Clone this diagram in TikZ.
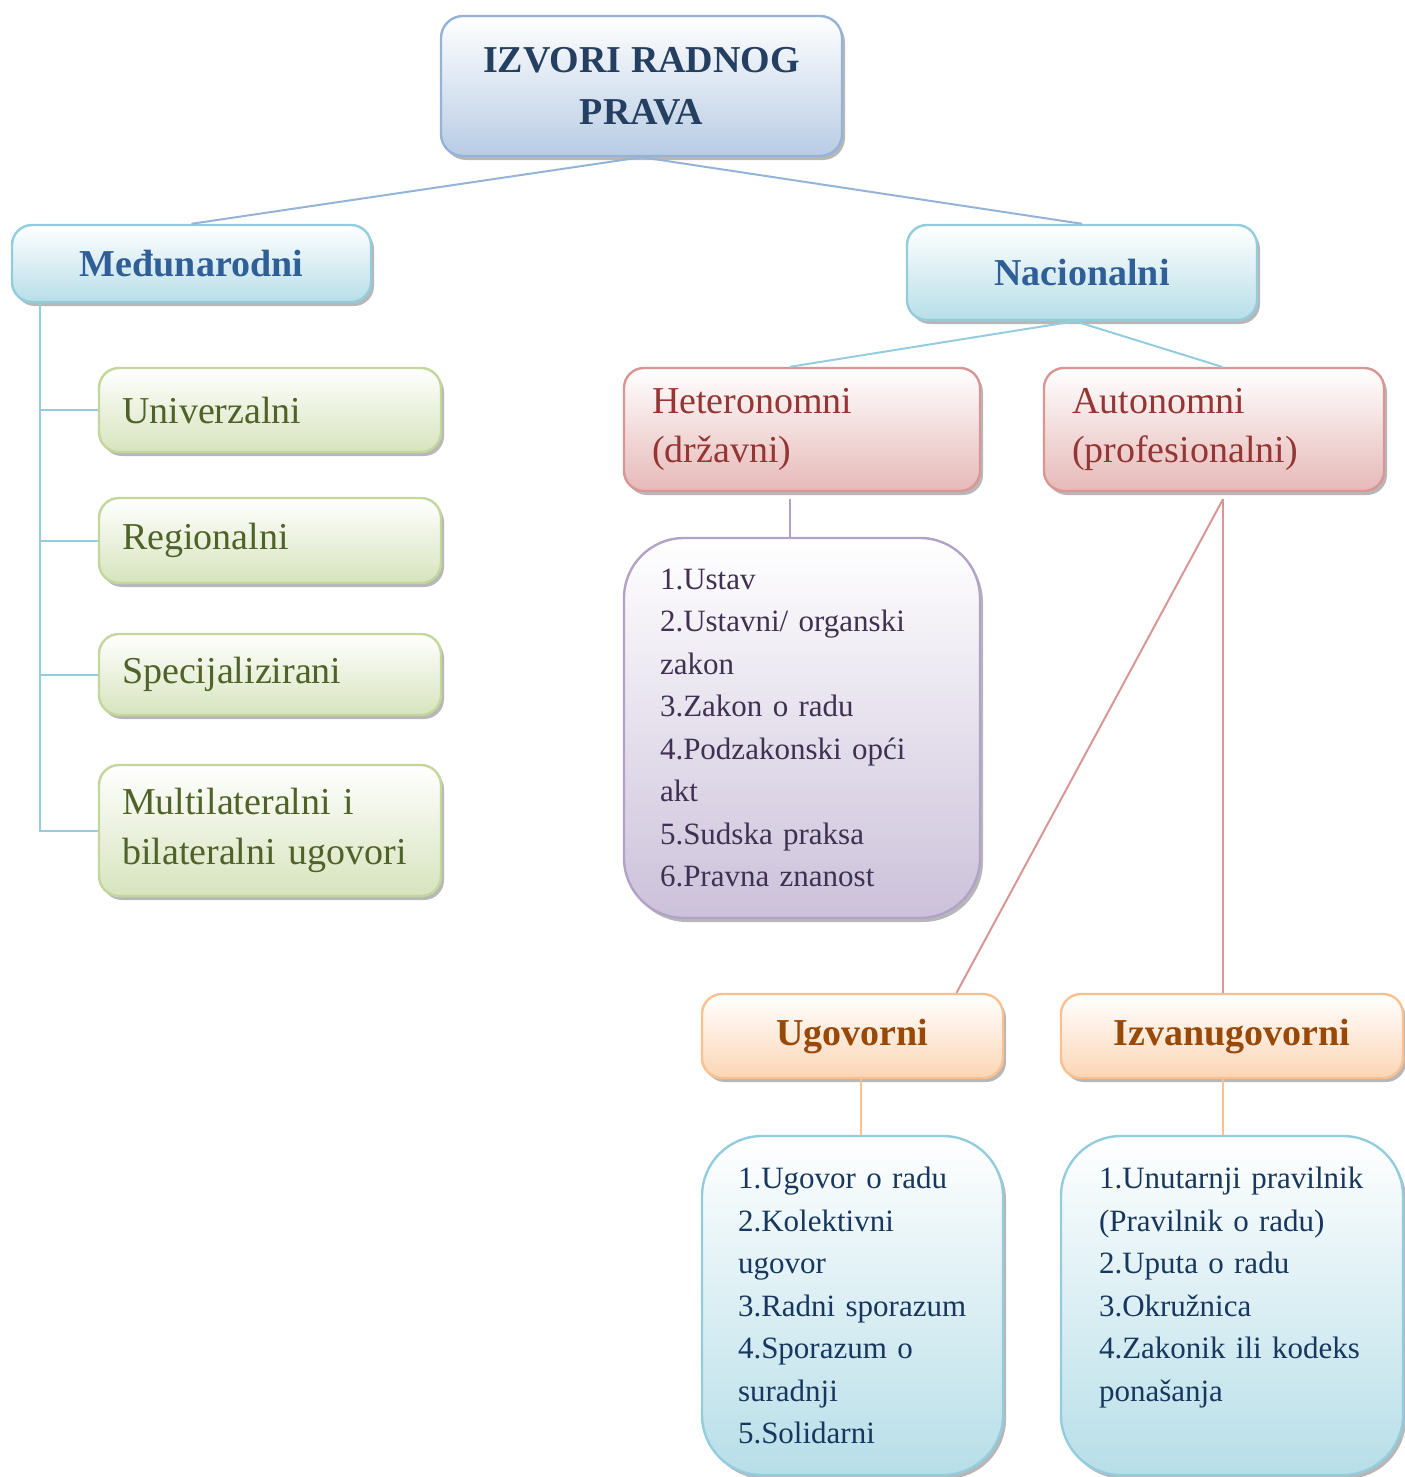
\documentclass[tikz,border=0pt]{standalone}
\usepackage{fontspec}
\setmainfont{Liberation Serif}
\usetikzlibrary{shadows}
\usetikzlibrary{calc}

\definecolor{topline}{HTML}{95B3D7}
\definecolor{topfill}{HTML}{B8CCE4}
\definecolor{toptext}{HTML}{243F60}
\definecolor{blueline}{HTML}{93CDDD}
\definecolor{bluefill}{HTML}{B7DEE8}
\definecolor{bluetext}{HTML}{2F5F96}
\definecolor{listtext}{HTML}{17375E}
\definecolor{greenline}{HTML}{C3D69B}
\definecolor{greenfill}{HTML}{D7E4BD}
\definecolor{greentext}{HTML}{4F6228}
\definecolor{redline}{HTML}{D99694}
\definecolor{redfill}{HTML}{E6B9B8}
\definecolor{redtext}{HTML}{943634}
\definecolor{purpleline}{HTML}{B3A2C7}
\definecolor{purplefill}{HTML}{CCC1DA}
\definecolor{purpletext}{HTML}{3F3151}
\definecolor{orangeline}{HTML}{FAC090}
\definecolor{orangefill}{HTML}{FBD5B5}
\definecolor{orangetext}{HTML}{984807}

\newcommand\headfont{\bfseries\fontsize{19}{26}\selectfont}
\newcommand\boxfont{\fontsize{19}{24.5}\selectfont}
\newcommand\itemfont{\fontsize{15.5}{21.25}\selectfont}

\tikzset{
  box/.style={rounded corners=10pt, line width=1.2pt, top color=white,
    drop shadow={shadow xshift=1.5pt, shadow yshift=-2pt, opacity=0.4, fill=black!70},
    inner ysep=0pt},
  topbox/.style={box, draw=topline, bottom color=topfill, text=toptext,
    font=\headfont, align=center, rounded corners=11pt},
  bluebox/.style={box, draw=blueline, bottom color=bluefill, text=bluetext,
    font=\headfont, align=center},
  greenbox/.style={box, draw=greenline, bottom color=greenfill, text=greentext,
    font=\boxfont, align=left, inner xsep=11.5pt, text width=148pt,
    minimum width=171pt},
  redbox/.style={box, draw=redline, bottom color=redfill, text=redtext,
    font=\boxfont, align=left, inner xsep=14pt},
  orangebox/.style={box, draw=orangeline, bottom color=orangefill, text=orangetext,
    font=\headfont, align=center},
  listbox/.style={box, rounded corners=30pt, font=\itemfont, align=left,
    inner xsep=18pt},
  conn/.style={line width=1pt}
}

\begin{document}
\begin{tikzpicture}[x=0.5pt,y=-0.5pt]
\useasboundingbox (0,0) rectangle (1404,1477);

\node[topbox, minimum width=200.5pt, minimum height=70pt] (top) at (641.5,86)
  {IZVORI RADNOG\\PRAVA};

\node[bluebox, minimum width=179.5pt, minimum height=38.5pt] (med) at (191.5,263.5) {Međunarodni};
\node[bluebox, minimum width=175pt, minimum height=47.5pt] (nac) at (1082,272.5) {Nacionalni};

\node[greenbox, minimum height=42pt] (univ) at (270,410) {Univerzalni};
\node[greenbox, minimum height=42.5pt] (reg) at (270,540.5) {Regionalni};
\node[greenbox, minimum height=40.5pt] (spec) at (270,674.5) {Specijalizirani};
\node[greenbox, minimum height=65.5pt, font=\fontsize{19}{25}\selectfont] (multi) at (270,830.5)
  {Multilateralni i\\bilateralni ugovori};

\node[redbox, text width=150pt, minimum height=61.5pt] (het) at (802,429.5)
  {Heteronomni\\(državni)};
\node[redbox, text width=142pt, minimum height=61.5pt] (aut) at (1214,429.5)
  {Autonomni\\(profesionalni)};

\node[listbox, draw=purpleline, bottom color=purplefill, text=purpletext,
  text width=142pt, minimum height=190pt] (hetlist) at (802,728)
  {1.Ustav\\2.Ustavni/ organski\\zakon\\3.Zakon o radu\\4.Podzakonski opći\\akt\\5.Sudska praksa\\6.Pravna znanost};

\node[orangebox, minimum width=150.5pt, minimum height=42pt] (ugov) at (852.5,1036) {Ugovorni};
\node[orangebox, minimum width=171pt, minimum height=42pt] (izvan) at (1232,1036) {Izvanugovorni};

\node[listbox, draw=blueline, bottom color=bluefill, text=listtext,
  text width=114.5pt, minimum height=169.5pt] (ugovlist) at (852.5,1305.5)
  {1.Ugovor o radu\\2.Kolektivni\\ugovor\\3.Radni sporazum\\4.Sporazum o\\suradnji\\5.Solidarni};
\node[listbox, draw=blueline, bottom color=bluefill, text=listtext,
  inner xsep=19pt, text width=133pt, minimum height=169.5pt] (izvanlist) at (1232,1305.5)
  {1.Unutarnji pravilnik\\(Pravilnik o radu)\\2.Uputa o radu\\3.Okružnica\\4.Zakonik ili kodeks\\ponašanja\\\mbox{}};

% connectors
\draw[conn, topline] (top.south) -- (med.north);
\draw[conn, topline] (top.south) -- (nac.north);

\coordinate (medfoot) at ([xshift=14.5pt]med.south west);
\draw[conn, blueline] (medfoot) -- (medfoot |- multi.west) -- (multi.west);
\draw[conn, blueline] (medfoot |- univ.west) -- (univ.west);
\draw[conn, blueline] (medfoot |- reg.west) -- (reg.west);
\draw[conn, blueline] (medfoot |- spec.west) -- (spec.west);

\coordinate (nacfoot) at ([xshift=-3.5pt]nac.south);
\draw[conn, blueline] (nacfoot) -- ([xshift=-6pt]het.north);
\draw[conn, blueline] (nacfoot) -- ([xshift=4pt]aut.north);

\draw[conn, purpleline] ([xshift=-6pt,yshift=-3.5pt]het.south) -- ([xshift=-6pt]hetlist.north);

\coordinate (autfoot) at ([xshift=4.5pt,yshift=-3.5pt]aut.south);
\draw[conn, redline] (autfoot) -- ([xshift=52pt]ugov.north);
\draw[conn, redline] (autfoot) -- (autfoot |- izvan.north);

\draw[conn, orangeline] ([xshift=4pt]ugov.south) -- ([xshift=4pt]ugovlist.north);
\draw[conn, orangeline] ([xshift=-4.5pt]izvan.south) -- ([xshift=-4.5pt]izvanlist.north);
\end{tikzpicture}
\end{document}
